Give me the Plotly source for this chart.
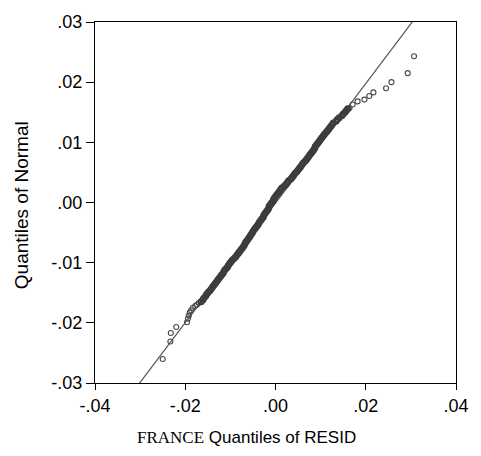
import plotly.graph_objects as go

# Sorted residual quantiles (x) against normal quantiles (y)
lower_x = [-0.0250, -0.0233, -0.0232, -0.0220, -0.0196, -0.0194, -0.0192, -0.0190,
           -0.0187, -0.0183, -0.0178, -0.0174, -0.0170]
lower_y = [-0.0260, -0.0231, -0.0217, -0.0207, -0.0199, -0.0193, -0.0188, -0.0183,
           -0.0179, -0.0175, -0.0172, -0.0170, -0.0167]

body_x = [-0.0165, -0.0161, -0.0159, -0.0155, -0.0153, -0.0150, -0.0146, -0.0143,
          -0.0140, -0.0137, -0.0134, -0.0131, -0.0128, -0.0125, -0.0122, -0.0119,
          -0.0116, -0.0114, -0.0111, -0.0107, -0.0105, -0.0102, -0.0099, -0.0096,
          -0.0092, -0.0088, -0.0085, -0.0082, -0.0079, -0.0076, -0.0073, -0.0070,
          -0.0068, -0.0066, -0.0063, -0.0060, -0.0057, -0.0055, -0.0052, -0.0050,
          -0.0047, -0.0044, -0.0041, -0.0038, -0.0036, -0.0033, -0.0030, -0.0027,
          -0.0026, -0.0023, -0.0020, -0.0017, -0.0015, -0.0014, -0.0011, -0.0008,
          -0.0005, -0.0004, -0.0001, 0.0002, 0.0005, 0.0008, 0.0011, 0.0014,
          0.0019, 0.0023, 0.0026, 0.0029, 0.0034, 0.0037, 0.0040, 0.0043,
          0.0047, 0.0050, 0.0053, 0.0056, 0.0059, 0.0062, 0.0066, 0.0069,
          0.0072, 0.0075, 0.0078, 0.0081, 0.0084, 0.0087, 0.0088, 0.0091,
          0.0094, 0.0097, 0.0100, 0.0103, 0.0106, 0.0109, 0.0113, 0.0116,
          0.0119, 0.0122, 0.0125, 0.0128, 0.0134, 0.0137, 0.0141, 0.0147,
          0.0150, 0.0154, 0.0157, 0.0160]
body_y = [-0.0165, -0.0162, -0.0159, -0.0156, -0.0153, -0.0150, -0.0147, -0.0144,
          -0.0141, -0.0138, -0.0135, -0.0132, -0.0129, -0.0126, -0.0123, -0.0120,
          -0.0117, -0.0114, -0.0111, -0.0108, -0.0105, -0.0102, -0.0099, -0.0096,
          -0.0093, -0.0090, -0.0087, -0.0084, -0.0081, -0.0078, -0.0075, -0.0072,
          -0.0069, -0.0066, -0.0063, -0.0060, -0.0057, -0.0054, -0.0051, -0.0048,
          -0.0045, -0.0042, -0.0039, -0.0036, -0.0033, -0.0030, -0.0027, -0.0024,
          -0.0021, -0.0018, -0.0015, -0.0012, -0.0009, -0.0006, -0.0003, 0.0000,
          0.0003, 0.0006, 0.0009, 0.0012, 0.0015, 0.0018, 0.0021, 0.0024,
          0.0027, 0.0030, 0.0033, 0.0036, 0.0039, 0.0042, 0.0045, 0.0048,
          0.0051, 0.0054, 0.0057, 0.0060, 0.0063, 0.0066, 0.0069, 0.0072,
          0.0075, 0.0078, 0.0081, 0.0084, 0.0087, 0.0090, 0.0093, 0.0096,
          0.0099, 0.0102, 0.0105, 0.0108, 0.0111, 0.0114, 0.0117, 0.0120,
          0.0123, 0.0126, 0.0129, 0.0132, 0.0135, 0.0138, 0.0141, 0.0144,
          0.0147, 0.0150, 0.0153, 0.0156]

upper_x = [0.0164, 0.0171, 0.0182, 0.0197, 0.0208, 0.0217, 0.0245, 0.0257, 0.0293, 0.0307]
upper_y = [0.0157, 0.0163, 0.0168, 0.0171, 0.0177, 0.0183, 0.0190, 0.0200, 0.0215, 0.0243]

# Reference normal line
line_slope = 0.9934
line_intercept = -0.0001
line_x = [-0.04, 0.04]
line_y = [line_intercept + line_slope * v for v in line_x]

x_ticks = [-0.04, -0.02, 0.0, 0.02, 0.04]
x_labels = ["-.04", "-.02", ".00", ".02", ".04"]
y_ticks = [-0.03, -0.02, -0.01, 0.0, 0.01, 0.02, 0.03]
y_labels = ["-.03", "-.02", "-.01", ".00", ".01", ".02", ".03"]

W, H = 481, 456
L, R, T, B = 95, 24, 20, 73

fig = go.Figure()
fig.add_trace(go.Scatter(
    x=line_x, y=line_y, mode="lines",
    line=dict(color="#555555", width=1.2),
    hoverinfo="skip", showlegend=False,
))
# Tails: thin open circles
fig.add_trace(go.Scatter(
    x=lower_x + upper_x, y=lower_y + upper_y, mode="markers",
    marker=dict(symbol="circle-open", size=5, color="#4a4a4a", line=dict(width=1.1)),
    showlegend=False,
))
# Central mass: overlapping circles drawn as a dense band
fig.add_trace(go.Scatter(
    x=body_x, y=body_y, mode="markers",
    marker=dict(symbol="circle-open", size=5, color="#3c3c3c", line=dict(width=2)),
    showlegend=False,
))

axis_font = dict(family="Liberation Sans, Arial, sans-serif", size=18, color="black")

fig.update_xaxes(
    range=[-0.04, 0.04], tickvals=x_ticks, ticktext=x_labels,
    showgrid=False, zeroline=False, showline=True, linecolor="black", linewidth=1.2,
    mirror=True, ticks="outside", ticklen=6, tickwidth=1, tickcolor="black",
    tickfont=axis_font,
)
fig.update_yaxes(
    range=[-0.03, 0.03], tickvals=y_ticks, ticktext=y_labels,
    showgrid=False, zeroline=False, showline=True, linecolor="black", linewidth=1.2,
    mirror=True, ticks="outside", ticklen=8, tickwidth=1, tickcolor="black",
    tickfont=axis_font,
)

pw = W - L - R
ph = H - T - B
fig.add_annotation(
    text='<span style="font-family:Liberation Serif, Times New Roman, serif">FRANCE</span> Quantiles of RESID',
    xref="paper", yref="paper", x=(135 - L) / pw, y=-(438 - (H - B)) / ph,
    xanchor="left", yanchor="middle", showarrow=False,
    font=dict(family="Liberation Sans, Arial, sans-serif", size=17, color="black"),
)
fig.add_annotation(
    text="Quantiles of Normal",
    xref="paper", yref="paper", x=-(L - 22) / pw, y=((H - B) - 204) / ph,
    xanchor="center", yanchor="middle", textangle=-90, showarrow=False,
    font=dict(family="Liberation Sans, Arial, sans-serif", size=19, color="black"),
)

fig.update_layout(
    width=W, height=H,
    margin=dict(l=L, r=R, t=T, b=B),
    paper_bgcolor="white", plot_bgcolor="white",
)

fig.write_html("out.html")
